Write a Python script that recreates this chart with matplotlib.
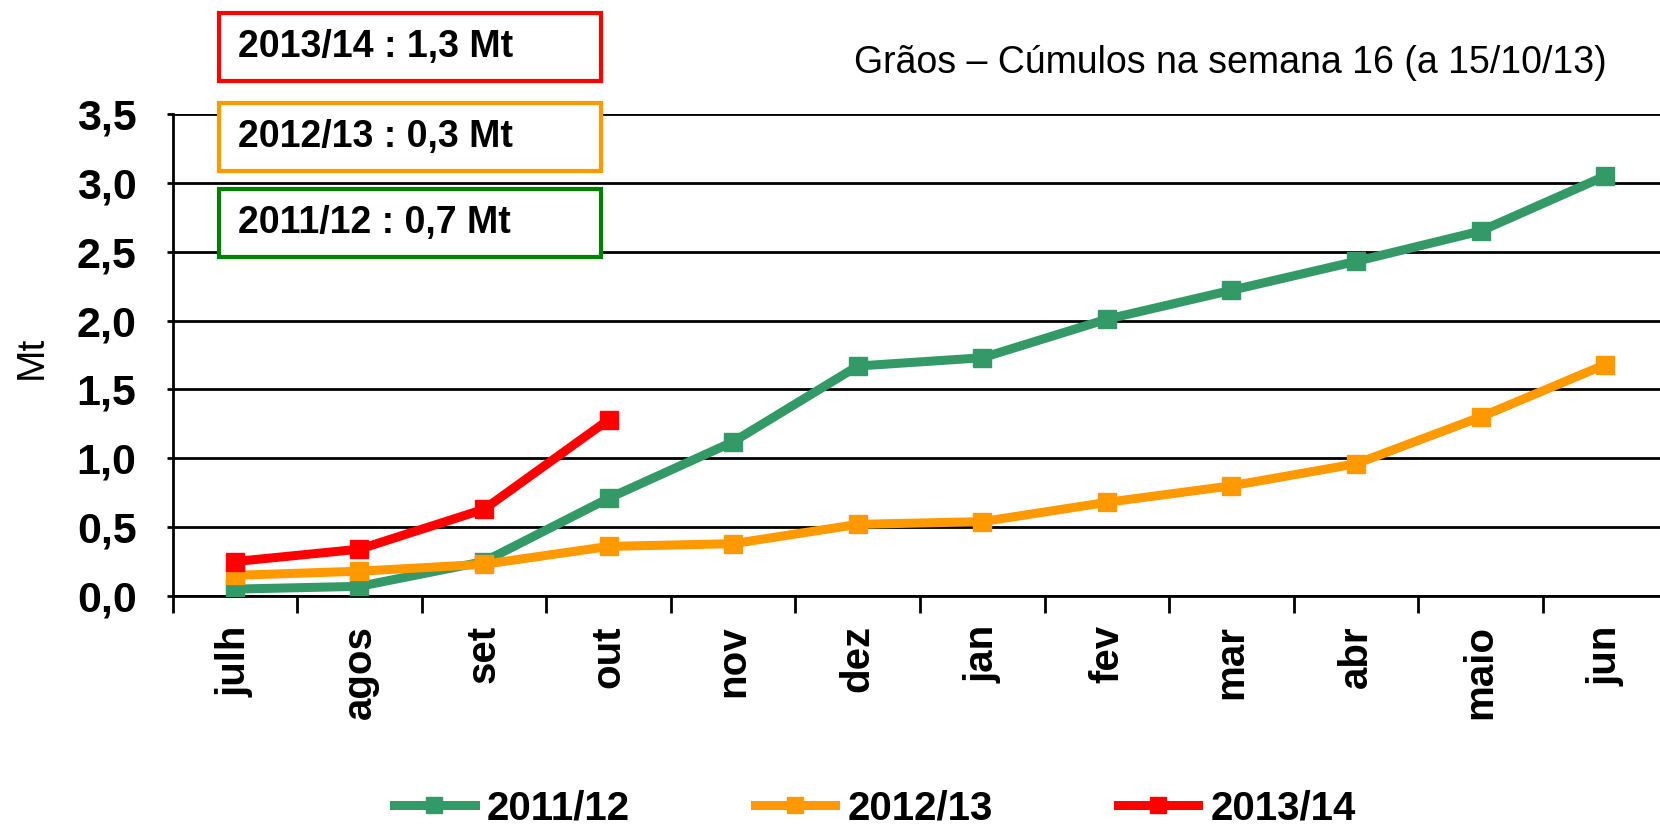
import matplotlib
matplotlib.use("Agg")
import matplotlib.pyplot as plt
from matplotlib.patches import Rectangle

plt.rcParams['font.family'] = ['Liberation Sans', 'DejaVu Sans']

months = ['julh', 'agos', 'set', 'out', 'nov', 'dez', 'jan', 'fev', 'mar', 'abr', 'maio', 'jun']
s2011 = [0.05, 0.07, 0.25, 0.71, 1.12, 1.67, 1.73, 2.01, 2.22, 2.43, 2.65, 3.05]
s2012 = [0.15, 0.18, 0.23, 0.36, 0.38, 0.52, 0.54, 0.68, 0.80, 0.96, 1.30, 1.68]
s2013 = [0.25, 0.34, 0.63, 1.28]
series_names = ['2011/12', '2012/13', '2013/14']
box_texts = ['2013/14 : 1,3 Mt', '2012/13 : 0,3 Mt', '2011/12 : 0,7 Mt']
yticks = [0.0, 0.5, 1.0, 1.5, 2.0, 2.5, 3.0, 3.5]
ytick_labels = ['0,0', '0,5', '1,0', '1,5', '2,0', '2,5', '3,0', '3,5']

green = '#339966'
orange = '#FF9900'
red = '#FF0000'

fig = plt.figure(figsize=(16.6, 8.31), dpi=100)
ax = fig.add_axes([0.104, 0.2828, 0.9005, 0.58])

x = list(range(len(months)))
ax.plot(x, s2011, color=green, lw=6.5, marker='s', ms=13, label=series_names[0], zorder=3)
ax.plot(x, s2012, color=orange, lw=6.5, marker='s', ms=13, label=series_names[1], zorder=3)
ax.plot(x[:len(s2013)], s2013, color=red, lw=6.5, marker='s', ms=13, label=series_names[2], zorder=4)

ax.set_xlim(-0.5, 11.5)
ax.set_ylim(0, 3.5)
ax.spines['top'].set_visible(False)
ax.spines['right'].set_visible(False)
ax.spines['left'].set_linewidth(2)
ax.spines['bottom'].set_linewidth(2)
ax.set_yticks(yticks)
ax.set_yticklabels(ytick_labels, fontsize=31, fontweight='bold')
ax.yaxis.grid(True, color='black', lw=2)
ax.set_axisbelow(True)
ax.tick_params(axis='y', length=4, width=2, pad=22)

ax.set_xticks(x)
ax.set_xticklabels(months, rotation=90, fontsize=29, fontweight='bold')
ax.set_xticks([i - 0.5 for i in range(len(months) + 1)], minor=True)
ax.tick_params(axis='x', which='major', length=0, pad=21)
ax.tick_params(axis='x', which='minor', length=12, width=2)

fig.text(0.019, 0.57, 'Mt', rotation=90, fontsize=28, ha='center', va='center')
fig.text(0.968, 0.924, 'Grãos – Cúmulos na semana 16 (a 15/10/13)', fontsize=27,
         ha='right', va='center')

# annotation boxes
box_y = [0.9025, 0.7942, 0.6907]
box_colors = [red, orange, '#008000']
for by, bc, bt in zip(box_y, box_colors, box_texts):
    fig.patches.append(Rectangle((0.1319, by), 0.2301, 0.0818, transform=fig.transFigure,
                                 facecolor='white', edgecolor=bc, lw=3, zorder=5))
    fig.text(0.1434, by + 0.041, bt, fontsize=27, fontweight='bold', va='center', zorder=6)

leg = fig.legend(loc='center', bbox_to_anchor=(0.527, 0.027), ncol=3, frameon=False,
                 prop={'size': 29, 'weight': 'bold'}, handlelength=2.0,
                 columnspacing=3.1, handletextpad=0.3, markerscale=0.85,
                 borderpad=0.1)

fig.savefig('out.png', dpi=100)
